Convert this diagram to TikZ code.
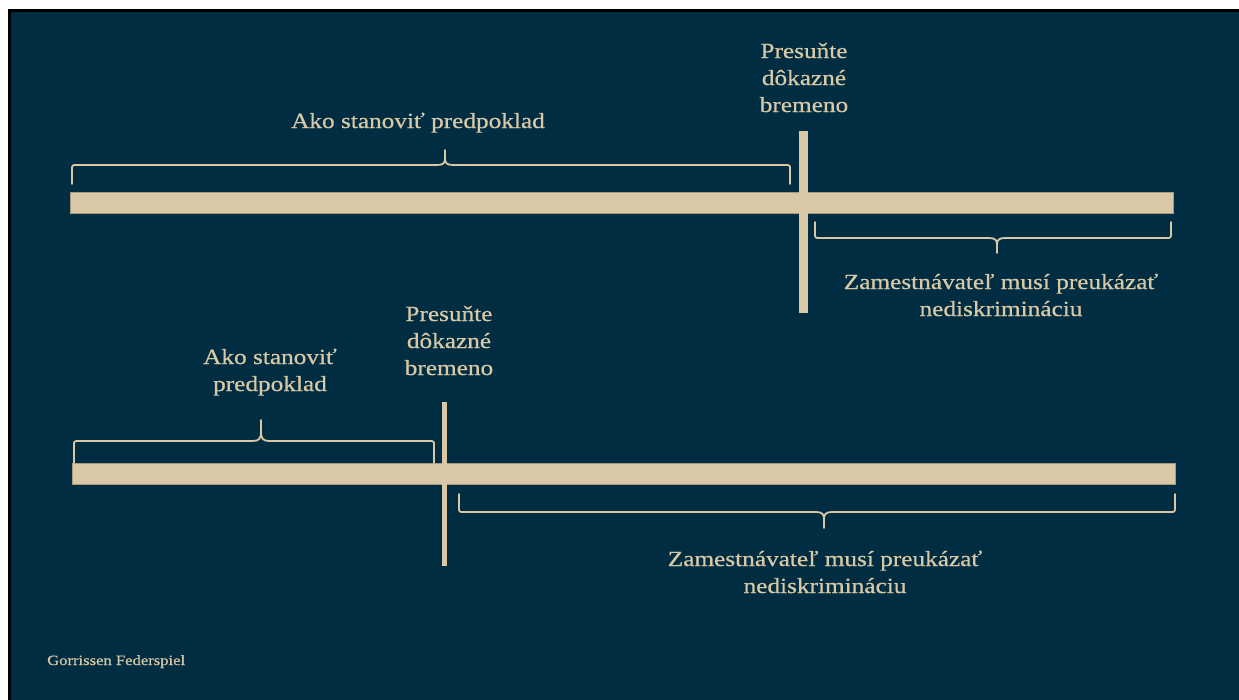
\documentclass[tikz,border=0pt]{standalone}
\usepackage{xcolor}
\usepackage{fontspec}
\setmainfont[FakeStretch=1.17, FakeBold=0.6]{Liberation Serif}
\usepackage{tikz}
\usetikzlibrary{calc}

\definecolor{navy}{HTML}{002D42}
\definecolor{sand}{HTML}{D8C8A5}
\definecolor{sandedge}{HTML}{A39A80}

\tikzset{
  barfill/.style={fill=sand, draw=sandedge, line width=0.8pt},
  shiftline/.style={fill=sand},
  bracepen/.style={draw=sand, line width=1.8pt, line cap=round, line join=round},
  label/.style={text=sand, font=\fontsize{21.6}{27}\selectfont, align=center, inner sep=0pt}
}

% brace: x1, x2, end y, line y, tip y, tip x
\newcommand{\timebrace}[6]{%
  \pgfmathsetmacro{\bracer}{5*sign(#3-#4)}%
  \pgfmathsetmacro{\bracemid}{#4+0.45*(#5-#4)}%
  \pgfmathsetmacro{\braceknee}{#4+0.15*(#5-#4)}%
  \draw[bracepen] (#1,#3) -- (#1,#4+\bracer) .. controls (#1,#4) .. (#1+5,#4)
    -- (#6-8,#4) .. controls (#6-1.5,#4) and (#6,\braceknee) .. (#6,\bracemid) -- (#6,#5);
  \draw[bracepen] (#6,\bracemid) .. controls (#6,\braceknee) and (#6+1.5,#4) .. (#6+8,#4)
    -- (#2-5,#4) .. controls (#2,#4) .. (#2,#4+\bracer) -- (#2,#3);
}

\begin{document}
\begin{tikzpicture}[x=1pt, y=-1pt]
\useasboundingbox (0,0) rectangle (1239,699);
\fill[white] (-5,-5) rectangle (1245,705);
\fill[black] (8,9) rectangle (1245,705);
\fill[navy] (11,12) rectangle (1245,705);

% upper timeline
\filldraw[barfill] (70,192) rectangle (1173,213);
\fill[shiftline] (799,131) rectangle (808,313);
\timebrace{72}{790}{184}{165}{150}{445}
\timebrace{815}{1171}{222}{238}{253}{997}

\node[label, anchor=base] (topcause) at (418,128) {Ako stanoviť predpoklad};
\node[label, anchor=base] (topshift) at (804,112) {Presuňte\\dôkazné\\bremeno};
\node[label, anchor=base] (topduty) at (1001,316) {Zamestnávateľ musí preukázať\\nediskrimináciu};

% lower timeline
\filldraw[barfill] (72,463) rectangle (1175,484);
\fill[shiftline] (442,402) rectangle (447,566);
\timebrace{74}{434}{463}{441}{420}{261}
\timebrace{459}{1175}{494}{512}{528}{824}

\node[label, anchor=base] (lowcause) at (270,391) {Ako stanoviť\\predpoklad};
\node[label, anchor=base] (lowshift) at (449,375) {Presuňte\\dôkazné\\bremeno};
\node[label, anchor=base] (lowduty) at (825,593) {Zamestnávateľ musí preukázať\\nediskrimináciu};

\node[text=sand, font=\fontsize{14.2}{17}\selectfont, inner sep=0pt, anchor=base west] (firm) at (47,665) {Gorrissen Federspiel};
\end{tikzpicture}
\end{document}
